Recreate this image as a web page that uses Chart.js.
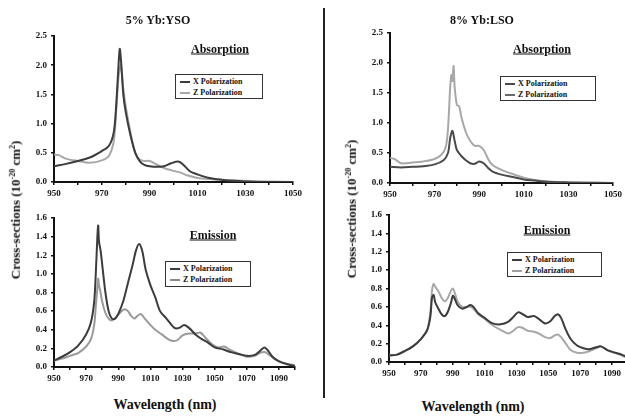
<!DOCTYPE html>
<html>
<head>
<meta charset="utf-8">
<script src="https://cdn.jsdelivr.net/npm/chart.js@4"></script>
<style>
  html, body { margin: 0; padding: 0; background: #fff; }
  body { width: 625px; height: 418px; position: relative; overflow: hidden; font-family: "Liberation Serif", "Times New Roman", serif; font-weight: bold; color: #111; }
  canvas { position: absolute; }
  .txt { position: absolute; transform: translate(-50%, -50%); white-space: nowrap; }
  .title { font-size: 12px; }
  .sub { font-size: 12px; text-decoration: underline; }
  .ylab { font-size: 13px; transform: translate(-50%, -50%) rotate(-90deg); }
  .xlab { font-size: 14px; }
  .legend { position: absolute; border: 1px solid #333; background: #fff; font-size: 8px; line-height: 11px; padding: 1px 4px; box-sizing: border-box; }
  .legend span.ln { display: inline-block; width: 10px; height: 2px; vertical-align: middle; margin-right: 3px; }
  .divider { position: absolute; left: 323px; top: 8px; width: 2px; height: 390px; background: #222; }
  sup { font-size: 8px; }
</style>
</head>
<body>
<canvas id="absYso" width="283" height="176" style="left:22px;top:26px"></canvas>
<canvas id="absLso" width="267" height="180" style="left:358px;top:23px"></canvas>
<canvas id="emiYso" width="285" height="179" style="left:22px;top:208px"></canvas>
<canvas id="emiLso" width="283" height="177" style="left:357px;top:205px"></canvas>

<div class="divider"></div>
<div class="txt title" style="left:158px;top:20px">5% Yb:YSO</div>
<div class="txt title" style="left:482px;top:20px">8% Yb:LSO</div>
<div class="txt sub" style="left:220px;top:49px">Absorption</div>
<div class="txt sub" style="left:542px;top:49px">Absorption</div>
<div class="txt sub" style="left:213px;top:235px">Emission</div>
<div class="txt sub" style="left:547px;top:230px">Emission</div>
<div class="txt ylab" style="left:16px;top:210px">Cross-sections (10<sup>-20</sup> cm<sup>2</sup>)</div>
<div class="txt ylab" style="left:352px;top:209px">Cross-sections (10<sup>-20</sup> cm<sup>2</sup>)</div>
<div class="txt xlab" style="left:165px;top:405px">Wavelength (nm)</div>
<div class="txt xlab" style="left:473px;top:407px">Wavelength (nm)</div>

<div class="legend" style="left:175px;top:74px;width:88px;height:25px">
  <div><span class="ln" style="background:#3c3c3c"></span>X Polarization</div>
  <div><span class="ln" style="background:#a8a8a8"></span>Z Polarization</div>
</div>
<div class="legend" style="left:500px;top:76px;width:96px;height:25px">
  <div><span class="ln" style="background:#4a4a4a"></span>X Polarization</div>
  <div><span class="ln" style="background:#6a6a6a"></span>Z Polarization</div>
</div>
<div class="legend" style="left:165px;top:261px;width:86px;height:26px">
  <div><span class="ln" style="background:#3c3c3c"></span>X Polarization</div>
  <div><span class="ln" style="background:#8a8a8a"></span>Z Polarization</div>
</div>
<div class="legend" style="left:507px;top:252px;width:95px;height:25px">
  <div><span class="ln" style="background:#3c3c3c"></span>X Polarization</div>
  <div><span class="ln" style="background:#a0a0a0"></span>Z Polarization</div>
</div>

<script>
// 5% Yb:YSO absorption
const absYsoXWave = [950, 955, 960, 965, 970, 973, 975, 976, 977, 977.5, 978, 979, 980, 982, 984, 986, 988, 990, 993, 996, 999, 1002, 1004, 1007, 1010, 1015, 1020, 1025, 1030, 1040, 1050];
const absYsoX     = [0.27, 0.31, 0.36, 0.42, 0.53, 0.62, 0.85, 1.3, 2.0, 2.28, 2.1, 1.5, 1.2, 0.8, 0.5, 0.35, 0.29, 0.27, 0.26, 0.27, 0.32, 0.35, 0.3, 0.18, 0.13, 0.07, 0.04, 0.02, 0.01, 0.0, 0.0];
const absYsoZWave = [950, 952, 955, 960, 965, 970, 973, 975, 976, 977, 978, 979, 980, 982, 984, 986, 988, 990, 993, 996, 1000, 1003, 1006, 1010, 1015, 1020, 1025, 1030, 1040, 1050];
const absYsoZ     = [0.47, 0.46, 0.40, 0.36, 0.33, 0.37, 0.45, 0.7, 1.2, 1.8, 2.0, 1.6, 1.3, 0.85, 0.5, 0.38, 0.36, 0.36, 0.30, 0.24, 0.19, 0.16, 0.11, 0.07, 0.05, 0.04, 0.03, 0.02, 0.01, 0.0];

// 8% Yb:LSO absorption
const absLsoXWave = [950, 955, 960, 965, 970, 974, 976, 977, 978, 979, 980, 982, 984, 986, 988, 990, 992, 994, 996, 1000, 1005, 1010, 1015, 1020, 1030, 1050];
const absLsoX     = [0.27, 0.26, 0.27, 0.28, 0.31, 0.38, 0.5, 0.75, 0.87, 0.7, 0.55, 0.45, 0.38, 0.33, 0.32, 0.36, 0.33, 0.25, 0.19, 0.14, 0.1, 0.06, 0.04, 0.02, 0.01, 0.0];
const absLsoZWave = [950, 952, 955, 960, 965, 970, 973, 975, 976, 977, 977.5, 978, 978.5, 979, 980, 981, 982, 984, 986, 988, 990, 992, 994, 996, 1000, 1005, 1010, 1015, 1020, 1030, 1050];
const absLsoZ     = [0.42, 0.40, 0.33, 0.34, 0.36, 0.40, 0.47, 0.6, 0.9, 1.6, 1.8, 1.7, 1.95, 1.6, 1.3, 1.28, 1.1, 0.85, 0.7, 0.62, 0.62, 0.55, 0.4, 0.3, 0.22, 0.15, 0.09, 0.05, 0.03, 0.01, 0.0];

// 5% Yb:YSO emission
const emiYsoXWave = [950, 955, 960, 965, 970, 973, 975, 976, 977, 977.5, 978, 979, 980, 982, 984, 986, 988, 990, 993, 996, 999, 1001, 1003, 1005, 1007, 1010, 1013, 1016, 1020, 1025, 1028, 1031, 1034, 1038, 1042, 1046, 1050, 1055, 1060, 1065, 1070, 1075, 1078, 1081, 1083, 1086, 1090, 1095, 1100];
const emiYsoX     = [0.07, 0.11, 0.16, 0.23, 0.35, 0.48, 0.7, 1.0, 1.4, 1.52, 1.35, 1.25, 1.1, 0.8, 0.6, 0.52, 0.52, 0.57, 0.7, 0.9, 1.1, 1.25, 1.32, 1.24, 1.05, 0.88, 0.75, 0.6, 0.52, 0.42, 0.42, 0.45, 0.42, 0.35, 0.3, 0.26, 0.21, 0.19, 0.16, 0.14, 0.12, 0.13, 0.17, 0.21, 0.18, 0.11, 0.06, 0.03, 0.01];
const emiYsoZWave = [950, 955, 960, 965, 970, 973, 975, 976, 977, 977.5, 978, 979, 980, 982, 984, 986, 988, 990, 992, 994, 996, 998, 1000, 1002, 1004, 1006, 1009, 1013, 1017, 1021, 1024, 1027, 1030, 1034, 1038, 1041, 1044, 1048, 1052, 1056, 1060, 1065, 1070, 1075, 1078, 1081, 1084, 1088, 1092, 1096, 1100];
const emiYsoZ     = [0.07, 0.09, 0.12, 0.15, 0.22, 0.3, 0.45, 0.65, 0.85, 0.95, 0.88, 0.8, 0.7, 0.58, 0.52, 0.5, 0.52, 0.56, 0.6, 0.62, 0.6, 0.55, 0.52, 0.55, 0.57, 0.53, 0.47, 0.4, 0.35, 0.3, 0.28, 0.29, 0.34, 0.36, 0.36, 0.37, 0.32, 0.25, 0.21, 0.22, 0.18, 0.14, 0.11, 0.12, 0.15, 0.16, 0.13, 0.08, 0.05, 0.03, 0.02];

// 8% Yb:LSO emission
const emiLsoWave = [950, 955, 960, 965, 970, 974, 976, 977, 978, 979, 981, 983, 985, 987, 989, 990, 991, 993, 996, 999, 1001, 1003, 1006, 1010, 1015, 1020, 1025, 1028, 1031, 1034, 1037, 1041, 1044, 1048, 1051, 1054, 1056, 1058, 1061, 1064, 1068, 1072, 1076, 1080, 1083, 1087, 1092, 1096, 1100];
const emiLsoX    = [0.07, 0.08, 0.12, 0.17, 0.25, 0.35, 0.5, 0.7, 0.73, 0.65, 0.58, 0.52, 0.5, 0.55, 0.65, 0.72, 0.7, 0.62, 0.58, 0.6, 0.62, 0.6, 0.53, 0.48, 0.42, 0.41, 0.44, 0.49, 0.54, 0.52, 0.49, 0.5, 0.47, 0.42, 0.44, 0.5, 0.52, 0.48, 0.35, 0.25, 0.18, 0.15, 0.14, 0.16, 0.17, 0.13, 0.1, 0.08, 0.05];
const emiLsoZ    = [0.07, 0.08, 0.12, 0.17, 0.25, 0.35, 0.55, 0.78, 0.85, 0.82, 0.77, 0.7, 0.66, 0.7, 0.78, 0.8, 0.77, 0.66, 0.6, 0.6, 0.6, 0.58, 0.52, 0.47, 0.4, 0.35, 0.31, 0.34, 0.38, 0.37, 0.34, 0.33, 0.31, 0.27, 0.26, 0.29, 0.3, 0.27, 0.2, 0.13, 0.1, 0.1, 0.12, 0.15, 0.17, 0.13, 0.1, 0.07, 0.04];

const tickFont = { family: "Liberation Serif", size: 9, weight: "bold" };

function pts(wave, vals){
    return wave.map((w, i) => { return { x: w, y: vals[i] }; });
}

function line(wave, vals, color){
    return {
        data: pts(wave, vals),
        borderColor: color,
        borderWidth: 2,
        pointRadius: 0,
        tension: 0.3,
        fill: false,
    };
}

function makeChart(id, datasets, xMax, yMax, yStep){
    return new Chart(id, {
        type: "line",
        data: { datasets: datasets },
        options: {
            responsive: false,
            animation: false,
            layout: { padding: { top: 10, right: 12, left: 0, bottom: 0 } },
            plugins: { legend: { display: false }, tooltip: { enabled: false } },
            scales: {
                x: {
                    type: "linear",
                    min: 950,
                    max: xMax,
                    afterFit: (s) => { s.height = 20; },
                    border: { color: "#111", width: 2 },
                    grid: { drawOnChartArea: false, drawTicks: true, tickLength: 3, color: "#111", lineWidth: 1.5 },
                    ticks: {
                        stepSize: 10,
                        autoSkip: false,
                        maxRotation: 0,
                        color: "#111",
                        font: tickFont,
                        padding: 3,
                        callback: (v) => { return ((v - 950) % 20 === 0) ? String(v) : ""; },
                    },
                },
                y: {
                    min: 0,
                    max: yMax,
                    afterFit: (s) => { s.width = 32; },
                    border: { color: "#111", width: 2 },
                    grid: { drawOnChartArea: false, drawTicks: true, tickLength: 3, color: "#111", lineWidth: 1.5 },
                    ticks: {
                        stepSize: yStep,
                        color: "#111",
                        font: tickFont,
                        padding: 4,
                        callback: (v) => { return v.toFixed(1); },
                    },
                },
            },
        },
    });
}

makeChart("absYso", [
    line(absYsoXWave, absYsoX, "#3c3c3c"),
    line(absYsoZWave, absYsoZ, "#a8a8a8"),
], 1050, 2.5, 0.5);

makeChart("absLso", [
    line(absLsoXWave, absLsoX, "#4a4a4a"),
    line(absLsoZWave, absLsoZ, "#a8a8a8"),
], 1050, 2.5, 0.5);

makeChart("emiYso", [
    line(emiYsoXWave, emiYsoX, "#3c3c3c"),
    line(emiYsoZWave, emiYsoZ, "#9a9a9a"),
], 1100, 1.6, 0.2);

makeChart("emiLso", [
    line(emiLsoWave, emiLsoX, "#3c3c3c"),
    line(emiLsoWave, emiLsoZ, "#a8a8a8"),
], 1100, 1.6, 0.2);
</script>
</body>
</html>
